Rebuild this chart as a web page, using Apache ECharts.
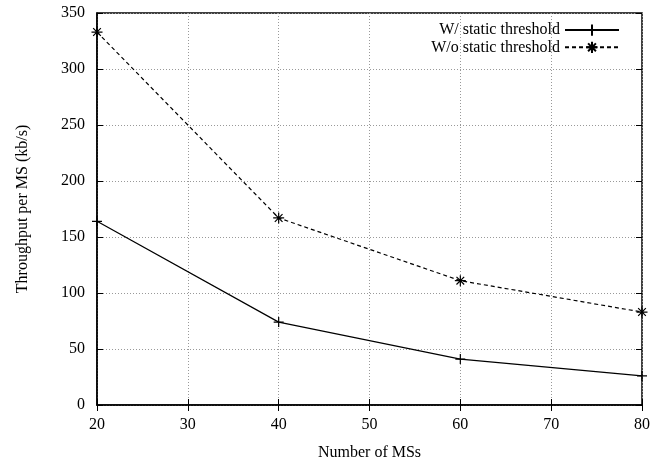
<!DOCTYPE html>
<html>
<head>
<meta charset="utf-8">
<script src="https://cdn.jsdelivr.net/npm/echarts@6/dist/echarts.min.js"></script>
<style>html,body{margin:0;padding:0;background:#fff;}#c{width:672px;height:462px;}</style>
</head>
<body>
<div id="c"></div>
<script>
var numMS = [20, 40, 60, 80];
var withStatic = [164, 74, 41, 26];
var withoutStatic = [333, 167, 111, 83];
var seriesNames = ['W/ static threshold', 'W/o static threshold'];

var FONT = '"Liberation Serif", "Times New Roman", serif';
var plusPath = 'path://M0,5L10,5M5,0L5,10';
var starPath = 'path://M0,5L10,5M5,0L5,10M1.5,1.5L8.5,8.5M8.5,1.5L1.5,8.5';

function pairs(xs, ys) { return xs.map(function (x, i) { return [x, ys[i]]; }); }

var gridLine = { show: true, lineStyle: { color: '#999', type: [1, 2], width: 1 } };
var chart = echarts.init(document.getElementById('c'));
chart.setOption({
  animation: false,
  backgroundColor: '#fff',
  textStyle: { fontFamily: FONT, color: '#000' },
  grid: { left: 97, right: 30, top: 13, bottom: 57, show: true, borderColor: '#000', borderWidth: 1.5,
          containLabel: false, outerBoundsMode: 'none' },
  legend: {
    right: 52, top: 22, orient: 'vertical', align: 'right',
    itemWidth: 54, itemHeight: 14, itemGap: 1, padding: 0,
    textStyle: { fontFamily: FONT, fontSize: 16, color: '#000', lineHeight: 14 },
    data: seriesNames
  },
  xAxis: [{
    type: 'value', min: 20, max: 80, interval: 10,
    name: 'Number of MSs', nameLocation: 'middle', nameGap: 40,
    nameTextStyle: { fontFamily: FONT, fontSize: 16, color: '#000' },
    axisLine: { show: true, lineStyle: { color: '#000', width: 1.5 } },
    axisTick: { show: true, inside: true, length: 6, lineStyle: { color: '#000' } },
    axisLabel: { fontFamily: FONT, fontSize: 16, color: '#000', margin: 12 },
    splitLine: gridLine
  }, {
    type: 'value', position: 'top', min: 20, max: 80, interval: 10,
    axisLine: { show: false },
    axisTick: { show: true, inside: true, length: 6, lineStyle: { color: '#000' } },
    axisLabel: { show: false }, splitLine: { show: false }
  }],
  yAxis: [{
    type: 'value', min: 0, max: 350, interval: 50,
    name: 'Throughput per MS (kb/s)', nameLocation: 'middle', nameGap: 66,
    nameTextStyle: { fontFamily: FONT, fontSize: 16, color: '#000' },
    axisLine: { show: true, lineStyle: { color: '#000', width: 1.5 } },
    axisTick: { show: true, inside: true, length: 6, lineStyle: { color: '#000' } },
    axisLabel: { fontFamily: FONT, fontSize: 16, color: '#000', margin: 12 },
    splitLine: gridLine
  }, {
    type: 'value', position: 'right', min: 0, max: 350, interval: 50,
    axisLine: { show: false },
    axisTick: { show: true, inside: true, length: 6, lineStyle: { color: '#000' } },
    axisLabel: { show: false }, splitLine: { show: false }
  }],
  series: [{
    name: seriesNames[0], type: 'line', data: pairs(numMS, withStatic),
    symbol: plusPath, symbolSize: 10, showAllSymbol: true,
    lineStyle: { color: '#000', width: 1.2, type: 'solid' },
    itemStyle: { color: 'none', borderColor: '#000', borderWidth: 1.2 }
  }, {
    name: seriesNames[1], type: 'line', data: pairs(numMS, withoutStatic),
    symbol: starPath, symbolSize: 11, showAllSymbol: true,
    lineStyle: { color: '#000', width: 1.2, type: [4, 3] },
    itemStyle: { color: 'none', borderColor: '#000', borderWidth: 1.2 }
  }]
});
</script>
</body>
</html>
